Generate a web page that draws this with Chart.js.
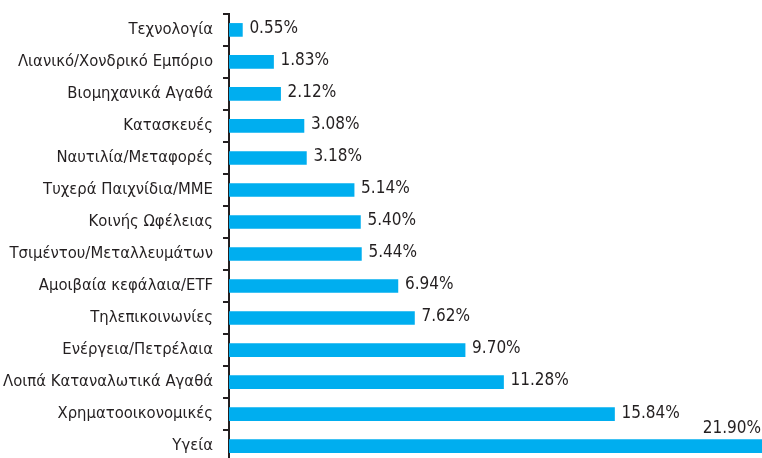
<!DOCTYPE html>
<html>
<head>
<meta charset="utf-8">
<script src="https://cdn.jsdelivr.net/npm/chart.js@4.4.1/dist/chart.umd.min.js"></script>
<style>
  html, body { margin: 0; padding: 0; background: #fff; overflow: hidden; }
  .chart-container { position: relative; width: 762px; height: 488px; margin-top: -6px; }
</style>
</head>
<body>
<div class="chart-container"><canvas id="sectorChart"></canvas></div>
<script>
const sectors = [
    "Τεχνολογία",
    "Λιανικό/Χονδρικό Εμπόριο",
    "Βιομηχανικά Αγαθά",
    "Κατασκευές",
    "Ναυτιλία/Μεταφορές",
    "Τυχερά Παιχνίδια/ΜΜΕ",
    "Κοινής Ωφέλειας",
    "Τσιμέντου/Μεταλλευμάτων",
    "Αμοιβαία κεφάλαια/ETF",
    "Τηλεπικοινωνίες",
    "Ενέργεια/Πετρέλαια",
    "Λοιπά Καταναλωτικά Αγαθά",
    "Χρηματοοικονομικές",
    "Υγεία",
];
const shares = [0.55, 1.83, 2.12, 3.08, 3.18, 5.14, 5.40, 5.44, 6.94, 7.62, 9.70, 11.28, 15.84, 21.90];

const textColor = "#231f20";
const fontFamily = "'DejaVu Sans Condensed', 'DejaVu Sans', sans-serif";

// percent labels next to each bar, the largest one sits above its bar
const valueLabels = {
    id: "valueLabels",
    afterDatasetsDraw(chart) {
        const ctx = chart.ctx;
        const meta = chart.getDatasetMeta(0);
        const last = shares.length - 1;
        ctx.save();
        ctx.font = "17px " + fontFamily;
        ctx.fillStyle = textColor;
        meta.data.forEach((bar, i) => {
            const text = shares[i].toFixed(2) + "%";
            if (i === last) {
                ctx.textAlign = "right";
                ctx.textBaseline = "middle";
                ctx.fillText(text, chart.width - 1, bar.y - 18);
            } else {
                ctx.textAlign = "left";
                ctx.textBaseline = "middle";
                ctx.fillText(text, bar.x + 7, bar.y - 1);
            }
        });
        ctx.restore();
    },
};

const ctx = document.getElementById("sectorChart").getContext("2d");

new Chart(ctx, {
    type: "bar",
    data: {
        labels: sectors,
        datasets: [
            {
                data: shares,
                backgroundColor: "#00aeef",
                borderWidth: 0,
                barThickness: 13,
            },
        ],
    },
    options: {
        indexAxis: "y",
        responsive: true,
        maintainAspectRatio: false,
        animation: false,
        layout: {
            padding: { top: 5, right: 0, bottom: 0, left: 0 },
        },
        scales: {
            x: {
                display: false,
                min: 0,
                max: 21.9,
            },
            y: {
                afterFit: (scale) => { scale.width = 229; },
                border: { display: true, color: textColor, width: 2 },
                grid: {
                    display: true,
                    drawOnChartArea: false,
                    drawTicks: true,
                    tickLength: 6,
                    color: textColor,
                    lineWidth: 2,
                },
                ticks: {
                    color: textColor,
                    padding: 10,
                    font: { family: fontFamily, size: 16.5 },
                },
            },
        },
        plugins: {
            legend: { display: false },
            tooltip: { enabled: false },
        },
    },
    plugins: [valueLabels],
});
</script>
</body>
</html>
